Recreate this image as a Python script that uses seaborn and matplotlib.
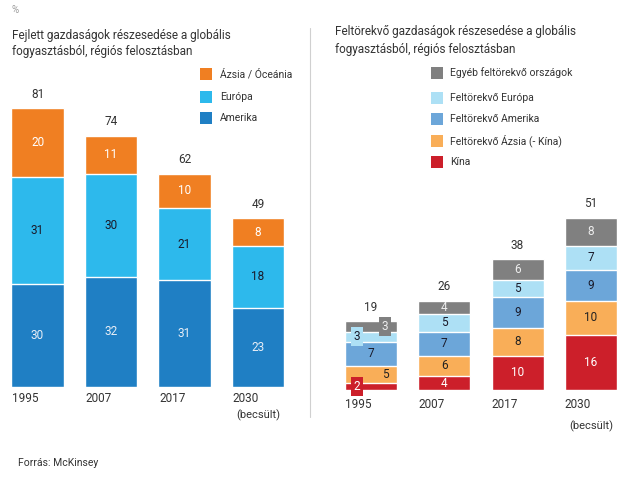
"""Fejlett vs. feltörekvő gazdaságok részesedése a globális fogyasztásból."""

import numpy as np
import matplotlib.pyplot as plt
from matplotlib.patches import Rectangle
import seaborn as sns

sns.set_theme(style='white')
plt.rcParams['font.family'] = ['Roboto', 'DejaVu Sans']

# --- data -----------------------------------------------------------------
years = ['1995', '2007', '2017', '2030']

# fejlett gazdaságok (alulról felfelé)
dev_amerika = [30, 32, 31, 23]
dev_europa = [31, 30, 21, 18]
dev_azsia = [20, 11, 10, 8]
dev_totals = [81, 74, 62, 49]

# feltörekvő gazdaságok (alulról felfelé)
em_kina = [2, 4, 10, 16]
em_azsia = [5, 6, 8, 10]
em_amerika = [7, 7, 9, 9]
em_europa = [3, 5, 5, 7]
em_egyeb = [3, 4, 6, 8]
em_totals = [19, 26, 38, 51]

W, H = 640, 480
TEXT = '#333333'


def fx(x):
    return x / W


def fy(y):
    return 1 - y / H


fig = plt.figure(figsize=(6.4, 4.8), dpi=100)

# --- bal oldali panel -----------------------------------------------------
ax1 = fig.add_axes([fx(0.75), fy(387), 294 / W, 344 / H])
dev_layers = [dev_amerika, dev_europa, dev_azsia]
dev_colors = ['#1f7fc4', '#2db9ec', '#f07f22']
dev_label_colors = ['#e8eef6', '#1a1a2a', '#ffffff']
cum = np.cumsum(np.array(dev_layers), axis=0)
# draw tallest first so lower segments overlap on top
for i in range(len(dev_layers) - 1, -1, -1):
    sns.barplot(x=years, y=cum[i], color=dev_colors[i], saturation=1,
                width=0.71, errorbar=None, edgecolor='white',
                linewidth=1.0, ax=ax1)
for i, layer in enumerate(dev_layers):
    base = cum[i] - np.array(layer)
    for j, v in enumerate(layer):
        ax1.text(j, base[j] + v / 2, str(v), ha='center', va='center',
                 fontsize=8.5, color=dev_label_colors[i])
for j, t in enumerate(dev_totals):
    ax1.text(j, cum[-1][j] + 2.2, str(t), ha='center', va='bottom',
             fontsize=8.5, color=TEXT)
ax1.set_xlim(-0.5, 3.5)
ax1.set_ylim(0, 100)
ax1.axis('off')
for j, y in enumerate(years):
    fig.text(fx(12 + j * 73.5), fy(398), y, fontsize=8.5, color=TEXT,
             va='center', ha='left')
fig.text(fx(258), fy(415), '(becsült)', fontsize=8, color=TEXT,
         va='center', ha='center')

# --- jobb oldali panel ----------------------------------------------------
ax2 = fig.add_axes([fx(334.35), fy(390), 293.2 / W, 344 / H])
em_layers = [em_kina, em_azsia, em_amerika, em_europa, em_egyeb]
em_colors = ['#cc1f2a', '#f9ae58', '#6ca6d9', '#ade0f5', '#808080']
em_label_colors = ['#ffffff', '#222222', '#1a1a2a', '#1a1a2a', '#eeeeee']
cum = np.cumsum(np.array(em_layers), axis=0)
for i in range(len(em_layers) - 1, -1, -1):
    sns.barplot(x=years, y=cum[i], color=em_colors[i], saturation=1,
                width=0.71, errorbar=None, edgecolor='white',
                linewidth=1.0, ax=ax2)
# 1995: a kicsi szegmensek címkéi eltolva, dobozzal
offsets_1995 = [-0.19, 0.19, 0.0, -0.19, 0.19]
boxed_1995 = [True, False, False, True, True]
for i, layer in enumerate(em_layers):
    base = cum[i] - np.array(layer)
    for j, v in enumerate(layer):
        dx = offsets_1995[i] if j == 0 else 0.0
        bbox = None
        if j == 0 and boxed_1995[i]:
            bbox = dict(boxstyle='square,pad=0.25', facecolor=em_colors[i],
                        edgecolor='none')
        ax2.text(j + dx, base[j] + v / 2, str(v), ha='center', va='center',
                 fontsize=8.5, color=em_label_colors[i], bbox=bbox)
for j, t in enumerate(em_totals):
    ax2.text(j, cum[-1][j] + 2.2, str(t), ha='center', va='bottom',
             fontsize=8.5, color=TEXT)
ax2.set_xlim(-0.5, 3.5)
ax2.set_ylim(0, 100)
ax2.axis('off')
for j, y in enumerate(years):
    fig.text(fx(345 + j * 73.3), fy(405), y, fontsize=8.5, color=TEXT,
             va='center', ha='left')
fig.text(fx(591), fy(426), '(becsült)', fontsize=8, color=TEXT,
         va='center', ha='center')

# --- címek, jelmagyarázat, egyéb szöveg -----------------------------------
fig.text(fx(12), fy(10), '%', fontsize=7, color='#999999', va='center')
fig.text(fx(12), fy(35), 'Fejlett gazdaságok részesedése a globális',
         fontsize=8.5, color=TEXT, va='center')
fig.text(fx(12), fy(51), 'fogyasztásból, régiós felosztásban',
         fontsize=8.5, color=TEXT, va='center')
fig.text(fx(335), fy(32), 'Feltörekvő gazdaságok részesedése a globális',
         fontsize=8.5, color=TEXT, va='center')
fig.text(fx(335), fy(49), 'fogyasztásból, régiós felosztásban',
         fontsize=8.5, color=TEXT, va='center')

dev_legend = [('Ázsia / Óceánia', '#f07f22', 74),
              ('Európa', '#2db9ec', 97),
              ('Amerika', '#1f7fc4', 118)]
for name, col, y in dev_legend:
    fig.add_artist(Rectangle((fx(200), fy(y + 6)), 12 / W, 12 / H,
                             facecolor=col, edgecolor='none',
                             transform=fig.transFigure))
    fig.text(fx(220), fy(y), name, fontsize=7.5, color=TEXT, va='center')

em_legend = [('Egyéb feltörekvő országok', '#808080', 73),
             ('Feltörekvő Európa', '#ade0f5', 98),
             ('Feltörekvő Amerika', '#6ca6d9', 119),
             ('Feltörekvő Ázsia (- Kína)', '#f9ae58', 141),
             ('Kína', '#cc1f2a', 162)]
for name, col, y in em_legend:
    fig.add_artist(Rectangle((fx(431), fy(y + 6)), 12 / W, 12 / H,
                             facecolor=col, edgecolor='none',
                             transform=fig.transFigure))
    fig.text(fx(450), fy(y), name, fontsize=7.5, color=TEXT, va='center')

# elválasztó vonal
fig.add_artist(plt.Line2D([fx(310), fx(310)], [fy(28), fy(417)],
                          color='#d0d0d0', linewidth=0.8,
                          transform=fig.transFigure))

fig.text(fx(18), fy(463), 'Forrás: McKinsey', fontsize=7.5, color=TEXT,
         va='center')

fig.savefig('out.png', dpi=100)
